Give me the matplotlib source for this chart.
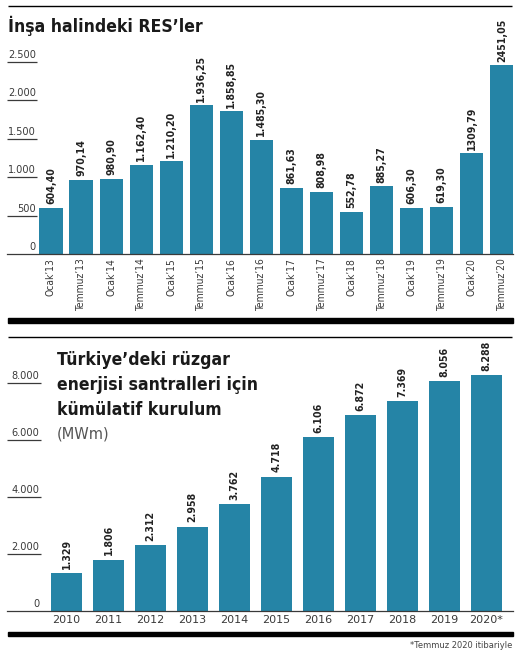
import matplotlib
matplotlib.use("Agg")
import matplotlib.pyplot as plt
from matplotlib.lines import Line2D
from matplotlib.patches import Rectangle

# Veriler - üst grafik (inşa halindeki RES'ler)
donemler = ["Ocak’13", "Temmuz’13", "Ocak’14", "Temmuz’14", "Ocak’15", "Temmuz’15",
            "Ocak’16", "Temmuz’16", "Ocak’17", "Temmuz’17", "Ocak’18", "Temmuz’18",
            "Ocak’19", "Temmuz’19", "Ocak’20", "Temmuz’20"]
insa_mw = [604.40, 970.14, 980.90, 1162.40, 1210.20, 1936.25, 1858.85, 1485.30,
           861.63, 808.98, 552.78, 885.27, 606.30, 619.30, 1309.79, 2451.05]
insa_etiket = ["604,40", "970,14", "980,90", "1.162,40", "1.210,20", "1.936,25",
               "1.858,85", "1.485,30", "861,63", "808,98", "552,78", "885,27",
               "606,30", "619,30", "1309,79", "2451,05"]
insa_ticks = [0, 500, 1000, 1500, 2000, 2500]
insa_tick_lbl = ["0", "500", "1.000", "1.500", "2.000", "2.500"]

# Veriler - alt grafik (kümülatif kurulum)
yillar = ["2010", "2011", "2012", "2013", "2014", "2015", "2016", "2017", "2018", "2019", "2020*"]
kumulatif = [1329, 1806, 2312, 2958, 3762, 4718, 6106, 6872, 7369, 8056, 8288]
kum_etiket = ["1.329", "1.806", "2.312", "2.958", "3.762", "4.718", "6.106", "6.872",
              "7.369", "8.056", "8.288"]
kum_ticks = [0, 2000, 4000, 6000, 8000]
kum_tick_lbl = ["0", "2.000", "4.000", "6.000", "8.000"]

renk = "#2584a6"
gri = "#3a3a3a"
W, H = 527, 656

fig = plt.figure(figsize=(W / 100, H / 100), dpi=100)
fig.patch.set_facecolor("white")


def px_axes(x0, y0, x1, y1):
    # piksel koordinatlarindan axes (y yukaridan asagi)
    return fig.add_axes([x0 / W, 1 - y1 / H, (x1 - x0) / W, (y1 - y0) / H])


def hat(x0, x1, y, lw, color="black"):
    fig.add_artist(Line2D([x0 / W, x1 / W], [1 - y / H, 1 - y / H], lw=lw, color=color,
                          transform=fig.transFigure, solid_capstyle="butt"))


def sade(ax):
    for s in ["top", "right", "left"]:
        ax.spines[s].set_visible(False)
    ax.spines["bottom"].set_color(gri)
    ax.spines["bottom"].set_linewidth(0.9)
    ax.set_yticks([])
    ax.patch.set_alpha(0)


# --- Üst grafik ---
ax1 = px_axes(7, 40, 513, 254.3)
x1 = list(range(len(insa_mw)))
ax1.bar(x1, insa_mw, width=0.77, color=renk)
ax1.set_xlim(-1.463, 15.37)
ax1.set_ylim(0, 2780)
sade(ax1)
ax1.set_xticks(x1)
ax1.set_xticklabels(donemler, rotation=90, fontsize=7.4, color=gri,
                    fontstretch="condensed")
ax1.tick_params(axis="x", length=0, pad=3)
for xi, v, t in zip(x1, insa_mw, insa_etiket):
    ax1.text(xi, v + 45, t, rotation=90, ha="center", va="bottom", fontsize=7.6,
             fontweight="bold", fontstretch="condensed", color="#222222")
ax1.hlines(insa_ticks[1:], -1.463, -0.466, color=gri, lw=0.9)
for v, t in zip(insa_ticks, insa_tick_lbl):
    ax1.text(-0.50, v + 25, t, ha="right", va="bottom", fontsize=7.8, color=gri,
             fontstretch="condensed")

fig.text(8 / W, 1 - 26 / H, "İnşa halindeki RES’ler", fontsize=12.6, fontweight="bold",
         fontstretch="condensed", color="#1a1a1a", va="center", ha="left")

# --- Alt grafik ---
ax2 = px_axes(7, 345, 513, 611)
x2 = list(range(len(kumulatif)))
ax2.bar(x2, kumulatif, width=0.74, color=renk)
ax2.set_xlim(-1.417, 10.631)
ax2.set_ylim(0, 9337)
sade(ax2)
ax2.set_xticks(x2)
ax2.set_xticklabels(yillar, fontsize=8, color=gri)
ax2.tick_params(axis="x", length=0, pad=3)
for xi, v, t in zip(x2, kumulatif, kum_etiket):
    ax2.text(xi, v + 150, t, rotation=90, ha="center", va="bottom", fontsize=7.6,
             fontweight="bold", fontstretch="condensed", color="#222222")
ax2.hlines(kum_ticks[1:], -1.417, -0.607, color=gri, lw=0.9)
for v, t in zip(kum_ticks, kum_tick_lbl):
    ax2.text(-0.64, v + 80, t, ha="right", va="bottom", fontsize=7.8, color=gri,
             fontstretch="condensed")

baslik = ["Türkiye’deki rüzgar", "enerjisi santralleri için", "kümülatif kurulum"]
for i, satir in enumerate(baslik):
    fig.text(57 / W, 1 - (360 + 25 * i) / H, satir, fontsize=12.6, fontweight="bold",
             fontstretch="condensed", color="#1a1a1a", va="center", ha="left")
fig.text(57 / W, 1 - 434 / H, "(MWm)", fontsize=10.5, color="#555555", va="center", ha="left")

# Çizgiler
hat(8, 512, 6, 1.0)
fig.add_artist(Rectangle((8 / W, 1 - 323 / H), 505 / W, 5 / H, color="black",
                         transform=fig.transFigure))
hat(8, 512, 337, 1.0)
fig.add_artist(Rectangle((8 / W, 1 - 635.5 / H), 505 / W, 4 / H, color="black",
                         transform=fig.transFigure))

fig.text(512 / W, 1 - 645 / H, "*Temmuz 2020 itibariyle", fontsize=6, color="#444444",
         ha="right", va="center")

fig.savefig("out.png", dpi=100, facecolor="white")
